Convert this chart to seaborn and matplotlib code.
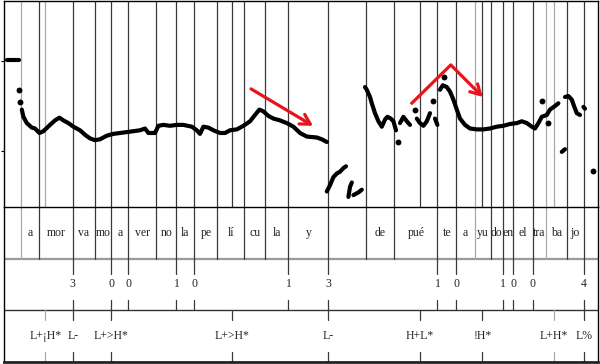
import pandas as pd
import matplotlib.pyplot as plt
import seaborn as sns

# ---- pitch track (time in s, f0 in Hz), one id per voiced stretch ----
f0_time = [0.036, 0.055, 0.075, 0.095,
           0.109, 0.117, 0.134, 0.159, 0.175, 0.197, 0.217, 0.250, 0.275, 0.297,
           0.317, 0.342, 0.367, 0.400, 0.425, 0.450, 0.475, 0.500, 0.534, 0.567,
           0.600, 0.634, 0.667, 0.700, 0.725, 0.742, 0.775, 0.792, 0.817, 0.850,
           0.884, 0.917, 0.959, 0.984, 1.000, 1.017, 1.042, 1.067, 1.100, 1.125,
           1.150, 1.184, 1.217, 1.250, 1.275, 1.297, 1.317, 1.342, 1.367, 1.400,
           1.434, 1.467, 1.500, 1.534, 1.584, 1.609, 1.634,
           1.634, 1.650, 1.667, 1.684, 1.700, 1.717, 1.730,
           1.742, 1.750, 1.759,
           1.767, 1.792, 1.809,
           1.825, 1.834, 1.850, 1.859, 1.875, 1.892, 1.909, 1.925, 1.937, 1.954,
           1.967, 1.980,
           2.000, 2.017, 2.034, 2.050,
           2.084, 2.100, 2.117, 2.134, 2.150,
           2.175, 2.187,
           2.200, 2.214, 2.234, 2.250, 2.267, 2.284, 2.300, 2.325, 2.350, 2.384,
           2.417, 2.450, 2.484, 2.517, 2.550, 2.584, 2.609, 2.634, 2.659, 2.675,
           2.692, 2.709, 2.734, 2.750, 2.775, 2.792,
           2.825, 2.842, 2.859, 2.870, 2.884, 2.900,
           2.917, 2.925,
           2.809, 2.825]
f0_hz = [201, 201, 201, 201,
         146, 138, 131, 126, 125, 120, 122, 129, 134, 137,
         134, 131, 127, 123, 118, 114, 112, 113, 117, 119,
         120, 121, 122, 123, 125, 120, 120, 128, 129, 128,
         129, 129, 127, 123, 119, 127, 126, 123, 120, 120,
         123, 124, 128, 133, 140, 146, 144, 139, 136, 134,
         131, 127, 120, 116, 115, 113, 110,
         55, 62, 71, 75, 77, 81, 83,
         49, 60, 65,
         51, 54, 57,
         171, 168, 160, 153, 142, 133, 127, 135, 138, 136,
         133, 123,
         131, 138, 133, 129,
         136, 131, 128, 133, 142,
         136, 129,
         168, 173, 171, 166, 157, 146, 136, 129, 125, 124,
         124, 125, 127, 128, 130, 131, 133, 131, 127, 125,
         131, 138, 140, 146, 150, 153,
         160, 161, 157, 150, 142, 140,
         149, 147,
         99, 102]
f0_seg = ([0] * 4 + [1] * 57 + [2] * 7 + [3] * 3 + [4] * 3 + [5] * 12 + [6] * 4
          + [7] * 5 + [8] * 2 + [9] * 26 + [10] * 6 + [11] * 2 + [12] * 2)

dot_time = [0.094, 0.102, 1.989, 2.075, 2.167, 2.220, 2.709, 2.742, 2.964]
dot_hz = [168, 154, 110, 146, 155, 182, 156, 131, 78]

# ---- TextGrid tiers ----
syl_bounds = [0.104, 0.194, 0.364, 0.474, 0.557, 0.642, 0.782, 0.882, 0.972,
              1.087, 1.222, 1.327, 1.442, 1.642, 1.830, 1.972, 2.187, 2.280,
              2.375, 2.454, 2.514, 2.567, 2.664, 2.729, 2.834, 2.920]
syl_labels = ["", "a", "mor", "va", "mo", "a", "ver", "no", "la", "pe", "lí",
              "cu", "la", "y", "", "de", "pué", "te", "a", "yu", "do", "en",
              "el", "tra", "ba", "jo", ""]
brk_time = [0.364, 0.557, 0.642, 0.882, 0.972, 1.442, 1.642, 2.187, 2.280,
            2.514, 2.567, 2.664, 2.920]
brk_labels = ["3", "0", "0", "1", "0", "1", "3", "1", "0", "1", "0", "0", "4"]
tone_time = [0.227, 0.364, 0.557, 1.160, 1.642, 2.100, 2.412, 2.770, 2.920]
tone_labels = ["L+¡H*", "L-", "L+>H*", "L+>H*", "L-", "H+L*", "!H*", "L+H*", "L%"]

light_lines = [0.104, 0.227, 2.375, 2.729, 2.770]

t_start, t_end = 0.0175, 2.9885

sns.set_style("white")
plt.rcParams['font.family'] = ['Liberation Serif', 'DejaVu Serif']

fig = plt.figure(figsize=(6, 3.64), dpi=100)
left = 3.5 / 600
width = (597.7 - 3.5) / 600
ax = fig.add_axes([left, (364 - 207) / 364, width, (207 - 1.0) / 364])
tg = fig.add_axes([left, (364 - 361.5) / 364, width, (361.5 - 207) / 364])

# vertical guide lines through the pitch panel
for t in sorted(set(syl_bounds + tone_time)):
    c = '#a8a8a8' if t in light_lines else '#3a3a3a'
    ax.axvline(t, color=c, lw=0.9, zorder=1)

pitch = pd.DataFrame({"t": f0_time, "f0": f0_hz, "seg": f0_seg})
sns.lineplot(data=pitch, x="t", y="f0", units="seg", estimator=None, sort=False,
             color="black", lw=3.0, solid_capstyle="round", ax=ax, zorder=3)
dots = pd.DataFrame({"t": dot_time, "f0": dot_hz})
sns.scatterplot(data=dots, x="t", y="f0", color="black", s=18, linewidth=0,
                ax=ax, zorder=3)

# red arrows
red = '#e8141c'
arrow = dict(arrowstyle='->,head_length=0.7,head_width=0.4', color=red, lw=2.3,
             shrinkA=0, shrinkB=0)
ax.annotate('', xy=(1.565, 128), xytext=(1.255, 169), arrowprops=arrow, zorder=4)
ax.plot([2.054, 2.254], [152, 195.6], color=red, lw=2.3, solid_capstyle='butt', zorder=4)
ax.annotate('', xy=(2.414, 160), xytext=(2.254, 195.6), arrowprops=arrow, zorder=4)

ax.set_xlim(t_start, t_end)
ax.set_ylim(37.8, 266.6)
ax.set_yticks([100, 200])
ax.set_yticklabels([])
ax.set_xticks([])
ax.tick_params(axis='y', direction='out', length=2.5, width=0.8, left=True, color='black')
ax.set_xlabel("")
ax.set_ylabel("")
for side in ['left', 'right', 'top']:
    ax.spines[side].set_visible(True)
    ax.spines[side].set_color('black')
    ax.spines[side].set_linewidth(1.0)
ax.spines['bottom'].set_visible(False)

# ---- tiers ----
tg.set_xlim(t_start, t_end)
tg.set_ylim(3, 0)
tg.set_xticks([])
tg.set_yticks([])
for side in ['left', 'right', 'top']:
    tg.spines[side].set_color('black')
    tg.spines[side].set_linewidth(1.0)
tg.spines['bottom'].set_color('#222222')
tg.spines['bottom'].set_linewidth(2.0)
tg.axhline(1, color='#9a9a9a', lw=1.6)
tg.axhline(2, color='#333333', lw=1.0)

edges = [t_start] + syl_bounds + [t_end]
for t in syl_bounds:
    c = '#a8a8a8' if t in light_lines else '#3a3a3a'
    tg.plot([t, t], [0, 1], color=c, lw=0.9)
for a, b, lab in zip(edges[:-1], edges[1:], syl_labels):
    tg.text((a + b) / 2, 0.5, lab, ha='center', va='center', fontsize=8.5, color='#222222')

for t, lab in zip(brk_time, brk_labels):
    tg.plot([t, t], [1, 1.31], color='#3a3a3a', lw=0.9)
    tg.plot([t, t], [1.80, 2], color='#3a3a3a', lw=0.9)
    tg.text(t, 1.5, lab, ha='center', va='center', fontsize=8.5, color='#222222')

for t, lab in zip(tone_time, tone_labels):
    c = '#a8a8a8' if t in light_lines else '#3a3a3a'
    tg.plot([t, t], [2, 2.19], color=c, lw=0.9)
    tg.plot([t, t], [2.82, 3], color=c, lw=0.9)
    tg.text(t, 2.5, lab, ha='center', va='center', fontsize=8.5, color='#222222')

fig.savefig("out.png", dpi=100)
